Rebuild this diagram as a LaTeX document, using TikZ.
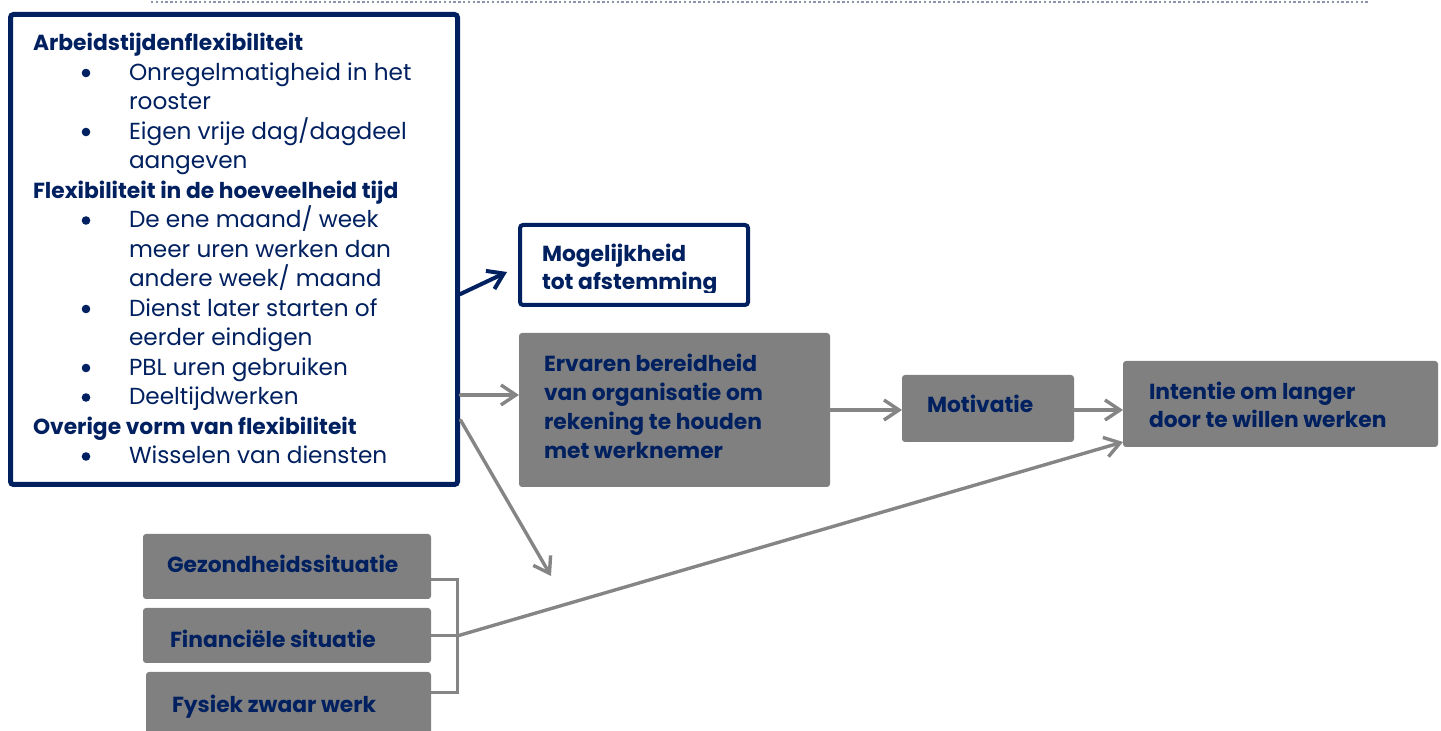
\documentclass[tikz,border=0pt]{standalone}
\usepackage{fontspec}
\setmainfont{Poppins}
\usetikzlibrary{arrows.meta,calc}

\definecolor{navy}{HTML}{002060}
\definecolor{boxgray}{HTML}{808080}
\definecolor{linegray}{HTML}{858585}
\definecolor{dotline}{HTML}{8A93A8}

\tikzset{
  every node/.style={inner sep=0pt, outer sep=0pt},
  txt/.style={anchor=base west, text=navy, font=\fontsize{11.6}{13}\selectfont},
  bold/.style={anchor=base west, text=navy, font=\fontsize{10.9}{13}\selectfont\bfseries},
  bul/.style={circle, fill=navy, minimum size=4.3pt},
  graybox/.style={draw=none, fill=boxgray, rounded corners=1.5pt},
  chev/.style={-{Straight Barb[length=7.5pt,width=10pt]}, line width=1.7pt, line cap=round},
  garrow/.style={chev, draw=linegray},
  narrow/.style={chev, draw=navy, line width=2pt},
  bracket/.style={draw=linegray, line width=1.5pt},
}

\begin{document}
\begin{tikzpicture}[x=0.5pt, y=-0.5pt]
\useasboundingbox (0,0) rectangle (1441,731);
\clip (0,0) rectangle (1441,731);

% dotted rule along the top
\draw[dotline, line width=1pt, dash pattern=on 1.2pt off 1.2pt] (151,2.5) -- (1369,2.5);

% ---- flexibility box ----
\node[draw=navy, line width=2.5pt, rounded corners=1.5pt, fill=white,
      minimum width=223.5pt, minimum height=235pt] (flex) at (234,249.5) {};

\node[bold] (h1) at (33,51) {Arbeidstijdenflexibiliteit};
\node[bul] (b1) at (86,73) {};
\node[txt] (t1) at (129,80.5) {Onregelmatigheid in het};
\node[txt] (t1b) at (129,110) {rooster};
\node[bul] (b2) at (86,132) {};
\node[txt] (t2) at (129,139.5) {Eigen vrije dag/dagdeel};
\node[txt] (t2b) at (129,169) {aangeven};
\node[bold] (h2) at (33,198.5) {Flexibiliteit in de hoeveelheid tijd};
\node[bul] (b3) at (86,220.5) {};
\node[txt] (t3) at (129,228) {De ene maand/ week};
\node[txt] (t3b) at (129,257.5) {meer uren werken dan};
\node[txt] (t3c) at (129,287) {andere week/ maand};
\node[bul] (b4) at (86,309) {};
\node[txt] (t4) at (129,316.5) {Dienst later starten of};
\node[txt] (t4b) at (129,346) {eerder eindigen};
\node[bul] (b5) at (86,368) {};
\node[txt] (t5) at (129,375.5) {PBL uren gebruiken};
\node[bul] (b6) at (86,397.5) {};
\node[txt] (t6) at (129,405) {Deeltijdwerken};
\node[bold] (h3) at (33,434.5) {Overige vorm van flexibiliteit};
\node[bul] (b7) at (86,456.5) {};
\node[txt] (t7) at (129,464) {Wisselen van diensten};

% ---- outcome boxes ----
\node[draw=navy, line width=2pt, rounded corners=1.5pt, fill=white,
      minimum width=114pt, minimum height=40pt] (mog) at (634,265) {};
\begin{scope}
  \clip (520,226) rectangle (748,293);
  \node[bold] (mogt) at (542,262) {Mogelijkheid};
  \node[bold] (mogt2) at (542,290) {tot afstemming};
\end{scope}

\node[graybox, minimum width=155.5pt, minimum height=77pt] (erv) at (674.5,410) {};
\node[bold] (ervt1) at (544,372) {Ervaren bereidheid};
\node[bold] (ervt2) at (544,401) {van organisatie om};
\node[bold] (ervt3) at (544,430) {rekening te houden};
\node[bold] (ervt4) at (544,459) {met werknemer};

\node[graybox, minimum width=86pt, minimum height=33.5pt] (mot) at (988,408.5) {};
\node[bold] (mott) at (927,413) {Motivatie};

\node[graybox, minimum width=157.5pt, minimum height=43pt] (int) at (1280.5,404) {};
\node[bold] (intt1) at (1149,400) {Intentie om langer};
\node[bold] (intt2) at (1149,428) {door te willen werken};

% ---- personal factors ----
\node[graybox, minimum width=144pt, minimum height=32.5pt] (gez) at (287,566.5) {};
\node[bold] (gezt) at (167,573) {Gezondheidssituatie};
\node[graybox, minimum width=144pt, minimum height=27.5pt] (fin) at (287,635.5) {};
\node[bold] (fint) at (170,648) {Financiële situatie};
\node[graybox, minimum width=142.5pt, minimum height=40pt] (fys) at (288.5,712) {};
\node[bold] (fyst) at (172,713) {Fysiek zwaar werk};

% bracket joining the three factors
\coordinate (brk) at (457,636);
\draw[bracket] ($(gez.east)+(0,13.5)$) -| (brk);
\draw[bracket] (fys.east |- 0,693) -| (brk);
\draw[bracket] (fin.east |- brk) -- (brk);

% ---- connectors ----
\coordinate (mogtip) at (507,272);
\coordinate (difftip) at (551,576);
\draw[narrow] ($(flex.east)+(3,44.5)$) -- (mogtip);
\draw[garrow] ($(flex.east)+(3,145.5)$) -- (erv.west |- 0,395);
\draw[garrow] ($(flex.east)+(3,170.5)$) -- (difftip);
\draw[garrow] (erv.east |- 0,410) -- (mot.west |- 0,410);
\draw[garrow] (mot.east |- 0,410) -- (int.west |- 0,410);
\draw[garrow] (brk) -- ($(int.south west)+(0,-5)$);
\end{tikzpicture}
\end{document}
